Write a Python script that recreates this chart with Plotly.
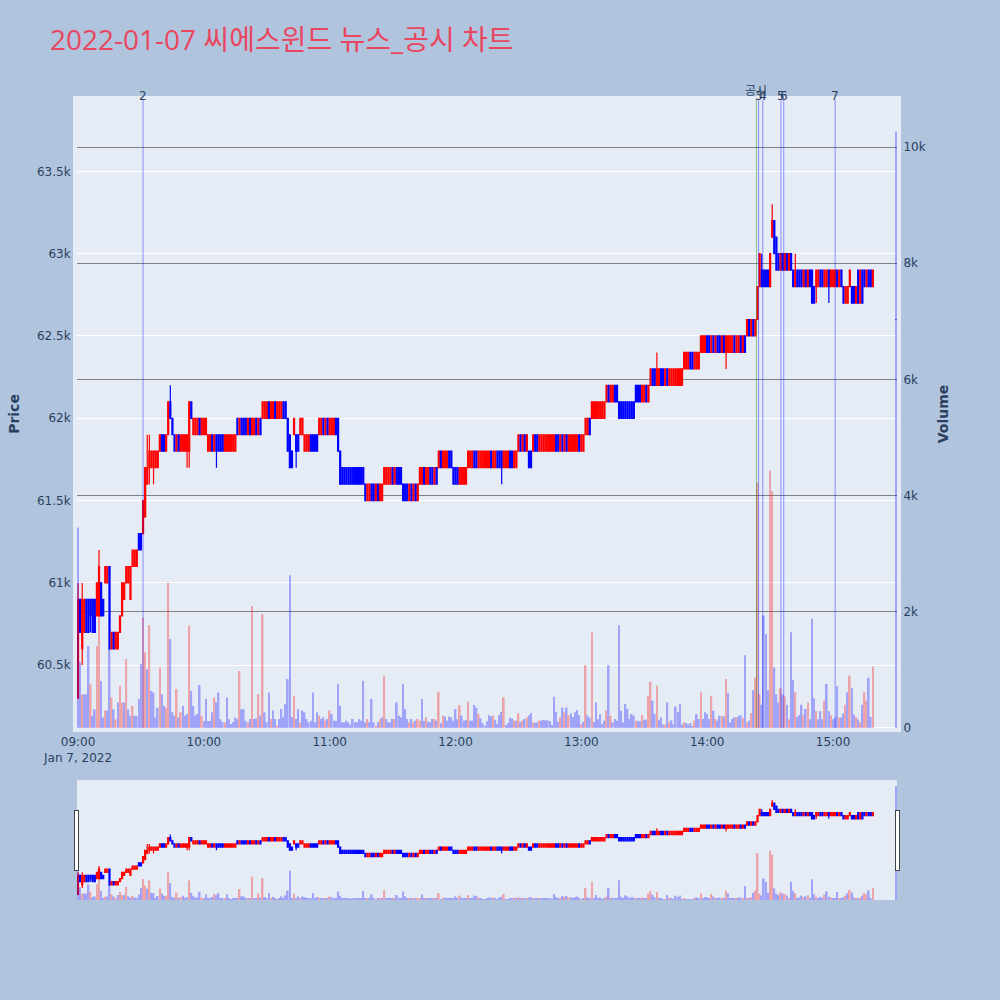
import pandas as pd
import plotly.graph_objects as go
from plotly.subplots import make_subplots

# 1-minute bars, 2022-01-07, 09:00-15:19 continuous session + 15:30 closing auction
TIMES = list(pd.date_range("2022-01-07 09:00", "2022-01-07 15:19", freq="min")) + [pd.Timestamp("2022-01-07 15:30")]

OPEN = [
60300, 60900, 60600, 60700, 60900, 60900, 60900, 60900, 60900, 60800,
60800, 61000, 60900, 61000, 61000, 61100, 60600, 60700, 60600, 60600,
60700, 60800, 60900, 61000, 61000, 60900, 61100, 61100, 61100, 61300,
61300, 61300, 61400, 61600, 61700, 61700, 61700, 61700, 61700, 61800,
61900, 61900, 61800, 61900, 62100, 62000, 61900, 61800, 61900, 61800,
61800, 61800, 61800, 61800, 62100, 61900, 61900, 61900, 62000, 61900,
61900, 61900, 61800, 61800, 61900, 61800, 61900, 61900, 61900, 61900,
61800, 61800, 61800, 61800, 61800, 61800, 62000, 61900, 62000, 62000,
62000, 61900, 62000, 61900, 61900, 62000, 61900, 62000, 62000, 62000,
62000, 62100, 62000, 62000, 62100, 62000, 62000, 62000, 62100, 62100,
62000, 61900, 61800, 61900, 61900, 61900, 61900, 61900, 61800, 61800,
61800, 61900, 61900, 61900, 61900, 61900, 61900, 62000, 61900, 62000,
61900, 61900, 61900, 62000, 62000, 61800, 61700, 61700, 61700, 61700,
61700, 61700, 61700, 61700, 61700, 61700, 61700, 61600, 61500, 61500,
61600, 61600, 61500, 61600, 61500, 61500, 61600, 61600, 61600, 61600,
61700, 61600, 61700, 61700, 61700, 61600, 61600, 61600, 61500, 61600,
61500, 61600, 61500, 61600, 61600, 61700, 61600, 61600, 61700, 61700,
61600, 61700, 61700, 61800, 61700, 61700, 61700, 61800, 61800, 61700,
61700, 61700, 61600, 61600, 61600, 61600, 61700, 61700, 61700, 61800,
61800, 61700, 61700, 61700, 61700, 61700, 61700, 61800, 61700, 61700,
61800, 61800, 61800, 61700, 61700, 61700, 61800, 61800, 61700, 61700,
61800, 61900, 61800, 61900, 61800, 61800, 61800, 61800, 61900, 61900,
61800, 61800, 61800, 61800, 61800, 61800, 61800, 61800, 61900, 61900,
61800, 61900, 61800, 61900, 61800, 61800, 61800, 61800, 61800, 61900,
61800, 61800, 61900, 61900, 62000, 62000, 62000, 62000, 62000, 62000,
62000, 62000, 62100, 62200, 62100, 62100, 62200, 62200, 62100, 62100,
62100, 62100, 62100, 62100, 62100, 62100, 62200, 62200, 62200, 62100,
62100, 62200, 62100, 62200, 62300, 62300, 62200, 62200, 62300, 62300,
62200, 62300, 62200, 62200, 62200, 62200, 62200, 62200, 62200, 62300,
62300, 62300, 62400, 62400, 62300, 62300, 62300, 62400, 62400, 62400,
62500, 62500, 62400, 62500, 62400, 62500, 62500, 62400, 62500, 62400,
62400, 62400, 62400, 62500, 62400, 62400, 62500, 62400, 62500, 62500,
62600, 62500, 62600, 62500, 62600, 62800, 62900, 62900, 62900, 62900,
62800, 63100, 63200, 63100, 63000, 62900, 63000, 62900, 63000, 62900,
63000, 62900, 62800, 62900, 62900, 62900, 62800, 62900, 62800, 62900,
62900, 62800, 62800, 62800, 62900, 62900, 62800, 62800, 62900, 62800,
62800, 62800, 62900, 62800, 62900, 62800, 62700, 62700, 62800, 62800,
62800, 62700, 62900, 62700, 62900, 62900, 62800, 62900, 62900, 62800,
62600]

HIGH = [
61000, 60900, 61000, 60900, 60900, 60900, 60900, 60900, 60900, 61000,
61200, 61000, 60900, 61100, 61100, 61100, 60700, 60700, 60700, 60700,
60800, 61000, 61000, 61100, 61100, 61100, 61200, 61200, 61200, 61300,
61300, 61500, 61700, 61900, 61900, 61800, 61800, 61800, 61800, 61900,
61900, 61900, 61900, 62100, 62200, 62000, 61900, 61900, 61900, 61900,
61900, 61900, 61900, 62100, 62100, 62000, 62000, 62000, 62000, 62000,
62000, 62000, 61900, 61900, 61900, 61900, 61900, 61900, 61900, 61900,
61900, 61900, 61900, 61900, 61900, 61900, 62000, 62000, 62000, 62000,
62000, 62000, 62000, 62000, 62000, 62000, 62000, 62000, 62100, 62100,
62100, 62100, 62100, 62100, 62100, 62100, 62100, 62100, 62100, 62100,
62000, 61900, 61800, 62000, 61900, 61900, 62000, 62000, 61900, 61900,
61900, 61900, 61900, 61900, 61900, 62000, 62000, 62000, 62000, 62000,
62000, 62000, 62000, 62000, 62000, 61800, 61700, 61700, 61700, 61700,
61700, 61700, 61700, 61700, 61700, 61700, 61700, 61600, 61600, 61600,
61600, 61600, 61600, 61600, 61600, 61600, 61700, 61700, 61700, 61700,
61700, 61700, 61700, 61700, 61700, 61600, 61600, 61600, 61600, 61600,
61600, 61600, 61600, 61700, 61700, 61700, 61700, 61700, 61700, 61700,
61700, 61700, 61800, 61800, 61800, 61800, 61800, 61800, 61800, 61700,
61700, 61700, 61700, 61700, 61700, 61700, 61800, 61800, 61800, 61800,
61800, 61800, 61800, 61800, 61800, 61800, 61800, 61800, 61800, 61800,
61800, 61800, 61800, 61800, 61800, 61800, 61800, 61800, 61800, 61800,
61900, 61900, 61900, 61900, 61900, 61800, 61800, 61900, 61900, 61900,
61900, 61900, 61900, 61900, 61900, 61900, 61900, 61900, 61900, 61900,
61900, 61900, 61900, 61900, 61900, 61900, 61900, 61900, 61900, 61900,
61900, 61900, 62000, 62000, 62000, 62100, 62100, 62100, 62100, 62100,
62100, 62100, 62200, 62200, 62200, 62200, 62200, 62200, 62100, 62100,
62100, 62100, 62100, 62100, 62100, 62100, 62200, 62200, 62200, 62200,
62200, 62200, 62200, 62300, 62300, 62300, 62400, 62300, 62300, 62300,
62300, 62300, 62300, 62300, 62300, 62300, 62300, 62300, 62300, 62400,
62400, 62400, 62400, 62400, 62400, 62400, 62400, 62500, 62500, 62500,
62500, 62500, 62500, 62500, 62500, 62500, 62500, 62500, 62500, 62500,
62500, 62500, 62500, 62500, 62500, 62500, 62500, 62500, 62500, 62600,
62600, 62600, 62600, 62600, 62800, 63000, 63000, 62900, 62900, 62900,
63000, 63300, 63200, 63100, 63000, 63000, 63000, 63000, 63000, 63000,
63000, 62900, 63000, 62900, 62900, 62900, 62900, 62900, 62900, 62900,
62900, 62800, 62900, 62900, 62900, 62900, 62900, 62900, 62900, 62900,
62900, 62900, 62900, 62900, 62900, 62800, 62800, 62800, 62900, 62800,
62800, 62800, 62900, 62900, 62900, 62900, 62900, 62900, 62900, 62900,
62600]

LOW = [
60300, 60700, 60500, 60700, 60700, 60700, 60700, 60700, 60700, 60800,
60800, 60800, 60800, 61000, 61000, 60600, 60600, 60600, 60600, 60600,
60700, 60800, 60900, 61000, 61000, 60900, 61100, 61100, 61100, 61200,
61200, 61300, 61400, 61600, 61600, 61700, 61600, 61700, 61700, 61800,
61800, 61800, 61800, 61900, 62000, 61900, 61800, 61800, 61800, 61800,
61800, 61800, 61700, 61700, 62000, 61900, 61900, 61900, 61900, 61900,
61900, 61900, 61800, 61800, 61800, 61800, 61700, 61800, 61800, 61800,
61800, 61800, 61800, 61800, 61800, 61800, 61900, 61900, 61900, 61900,
61900, 61900, 61900, 61900, 61900, 61900, 61900, 61900, 62000, 62000,
62000, 62000, 62000, 62000, 62000, 62000, 62000, 62000, 62000, 62000,
61800, 61700, 61700, 61900, 61700, 61800, 61900, 61900, 61800, 61800,
61800, 61800, 61800, 61800, 61800, 61900, 61900, 61900, 61900, 61900,
61900, 61900, 61900, 61900, 61800, 61600, 61600, 61600, 61600, 61600,
61600, 61600, 61600, 61600, 61600, 61600, 61600, 61500, 61500, 61500,
61500, 61500, 61500, 61500, 61500, 61500, 61600, 61600, 61600, 61600,
61600, 61600, 61600, 61600, 61600, 61500, 61500, 61500, 61500, 61500,
61500, 61500, 61500, 61600, 61600, 61600, 61600, 61600, 61600, 61600,
61600, 61600, 61700, 61700, 61700, 61700, 61700, 61700, 61700, 61600,
61600, 61600, 61600, 61600, 61600, 61600, 61700, 61700, 61700, 61700,
61700, 61700, 61700, 61700, 61700, 61700, 61700, 61700, 61700, 61700,
61700, 61700, 61600, 61700, 61700, 61700, 61700, 61700, 61700, 61700,
61800, 61800, 61800, 61800, 61800, 61700, 61700, 61800, 61800, 61800,
61800, 61800, 61800, 61800, 61800, 61800, 61800, 61800, 61800, 61800,
61800, 61800, 61800, 61800, 61800, 61800, 61800, 61800, 61800, 61800,
61800, 61800, 61900, 61900, 61900, 62000, 62000, 62000, 62000, 62000,
62000, 62000, 62100, 62100, 62100, 62100, 62100, 62100, 62000, 62000,
62000, 62000, 62000, 62000, 62000, 62000, 62100, 62100, 62100, 62100,
62100, 62100, 62100, 62200, 62200, 62200, 62200, 62200, 62200, 62200,
62200, 62200, 62200, 62200, 62200, 62200, 62200, 62200, 62200, 62300,
62300, 62300, 62300, 62300, 62300, 62300, 62300, 62400, 62400, 62400,
62400, 62400, 62400, 62400, 62400, 62400, 62400, 62400, 62400, 62300,
62400, 62400, 62400, 62400, 62400, 62400, 62400, 62400, 62400, 62500,
62500, 62500, 62500, 62500, 62600, 62800, 62800, 62800, 62800, 62800,
62800, 63100, 63000, 62900, 62900, 62900, 62900, 62900, 62900, 62900,
62900, 62800, 62800, 62800, 62800, 62800, 62800, 62800, 62800, 62800,
62700, 62700, 62700, 62800, 62800, 62800, 62800, 62800, 62700, 62800,
62800, 62800, 62800, 62800, 62800, 62700, 62700, 62700, 62800, 62700,
62700, 62700, 62700, 62700, 62700, 62800, 62800, 62800, 62800, 62800,
62600]

CLOSE = [
60900, 60700, 60900, 60900, 60700, 60700, 60800, 60700, 60700, 61000,
61100, 60800, 60800, 61100, 61100, 60600, 60700, 60600, 60700, 60700,
60800, 61000, 61000, 61100, 61100, 61100, 61200, 61200, 61200, 61200,
61200, 61500, 61700, 61700, 61800, 61800, 61800, 61800, 61800, 61900,
61800, 61800, 61900, 62100, 62000, 61900, 61800, 61900, 61800, 61900,
61900, 61900, 61900, 62100, 62000, 62000, 62000, 62000, 61900, 62000,
62000, 62000, 61900, 61900, 61800, 61900, 61800, 61800, 61800, 61800,
61900, 61900, 61900, 61900, 61900, 61900, 61900, 62000, 61900, 61900,
61900, 62000, 61900, 62000, 62000, 61900, 62000, 61900, 62100, 62100,
62100, 62000, 62100, 62100, 62000, 62100, 62100, 62100, 62000, 62000,
61800, 61700, 61700, 62000, 61800, 61800, 62000, 62000, 61900, 61900,
61900, 61800, 61800, 61800, 61800, 62000, 62000, 61900, 62000, 61900,
62000, 62000, 62000, 61900, 61800, 61600, 61600, 61600, 61600, 61600,
61600, 61600, 61600, 61600, 61600, 61600, 61600, 61500, 61600, 61600,
61500, 61500, 61600, 61500, 61600, 61600, 61700, 61700, 61700, 61700,
61600, 61700, 61600, 61600, 61600, 61500, 61500, 61500, 61600, 61500,
61600, 61500, 61600, 61700, 61700, 61600, 61700, 61700, 61600, 61600,
61700, 61600, 61800, 61700, 61800, 61800, 61800, 61700, 61700, 61600,
61600, 61600, 61700, 61700, 61700, 61700, 61800, 61800, 61800, 61700,
61700, 61800, 61800, 61800, 61800, 61800, 61800, 61700, 61800, 61800,
61700, 61700, 61700, 61800, 61800, 61800, 61700, 61700, 61800, 61800,
61900, 61800, 61900, 61800, 61900, 61700, 61700, 61900, 61800, 61800,
61900, 61900, 61900, 61900, 61900, 61900, 61900, 61900, 61800, 61800,
61900, 61800, 61900, 61800, 61900, 61900, 61900, 61900, 61900, 61800,
61900, 61900, 62000, 62000, 61900, 62100, 62100, 62100, 62100, 62100,
62100, 62100, 62200, 62100, 62200, 62200, 62100, 62100, 62000, 62000,
62000, 62000, 62000, 62000, 62000, 62000, 62100, 62100, 62100, 62200,
62200, 62100, 62200, 62300, 62200, 62200, 62300, 62300, 62200, 62200,
62300, 62200, 62300, 62300, 62300, 62300, 62300, 62300, 62300, 62400,
62400, 62400, 62300, 62300, 62400, 62400, 62400, 62500, 62500, 62500,
62400, 62400, 62500, 62400, 62500, 62400, 62400, 62500, 62400, 62500,
62500, 62500, 62500, 62400, 62500, 62500, 62400, 62500, 62400, 62600,
62500, 62600, 62500, 62600, 62800, 63000, 62800, 62800, 62800, 62800,
63000, 63200, 63000, 62900, 62900, 63000, 62900, 63000, 62900, 63000,
62900, 62800, 62900, 62800, 62800, 62800, 62900, 62800, 62900, 62800,
62700, 62700, 62900, 62900, 62800, 62800, 62900, 62900, 62800, 62900,
62900, 62900, 62800, 62900, 62800, 62700, 62800, 62800, 62900, 62700,
62700, 62800, 62700, 62900, 62700, 62800, 62900, 62800, 62800, 62900,
62600]

VOLUME = [
3450, 1130, 580, 580, 580, 1410, 750, 210, 320, 1410,
2200, 810, 180, 300, 300, 1360, 525, 320, 150, 440,
725, 440, 440, 1185, 320, 210, 380, 210, 210, 500,
1100, 1900, 1300, 1010, 1770, 640, 610, 180, 350, 1040,
580, 380, 350, 2500, 1530, 270, 210, 670, 180, 270,
380, 210, 240, 1760, 640, 380, 210, 240, 740, 210,
120, 500, 120, 120, 270, 525, 440, 610, 150, 100,
100, 525, 150, 70, 100, 180, 150, 980, 320, 326,
120, 100, 155, 2100, 155, 166, 584, 212, 1960, 270,
100, 613, 155, 300, 155, 40, 155, 326, 183, 412,
842, 2630, 183, 555, 155, 326, 97, 300, 270, 155,
97, 125, 613, 97, 270, 212, 155, 183, 125, 155,
300, 240, 125, 125, 756, 384, 97, 97, 125, 97,
57, 155, 97, 97, 155, 126, 813, 97, 155, 97,
500, 97, 40, 97, 155, 183, 900, 155, 97, 97,
155, 155, 440, 212, 183, 756, 326, 155, 97, 155,
97, 126, 155, 126, 498, 120, 183, 110, 97, 155,
155, 126, 624, 86, 212, 200, 126, 195, 183, 126,
326, 150, 395, 212, 126, 140, 452, 126, 126, 395,
350, 240, 165, 86, 40, 115, 220, 200, 212, 140,
70, 220, 280, 527, 52, 86, 170, 165, 126, 126,
255, 97, 126, 155, 183, 220, 252, 97, 92, 97,
126, 126, 140, 130, 130, 120, 52, 538, 280, 110,
183, 350, 270, 350, 220, 255, 190, 270, 310, 220,
64, 105, 1083, 220, 180, 1644, 103, 441, 150, 240,
69, 126, 298, 1082, 212, 97, 155, 126, 1770, 298,
97, 413, 327, 155, 240, 212, 126, 126, 115, 223,
143, 143, 555, 796, 470, 240, 727, 143, 183, 60,
60, 441, 97, 130, 60, 372, 269, 413, 60, 100,
86, 60, 86, 30, 126, 240, 155, 613, 155, 270,
240, 155, 555, 298, 155, 126, 212, 212, 200, 842,
601, 97, 155, 183, 183, 200, 221, 171, 1254, 100,
126, 257, 650, 864, 4220, 580, 400, 1936, 1614, 650,
4430, 4080, 1043, 580, 436, 686, 580, 543, 400, 150,
1650, 828, 614, 186, 221, 400, 221, 328, 436, 150,
1879, 507, 293, 150, 290, 150, 471, 757, 290, 220,
150, 180, 722, 180, 180, 250, 400, 614, 900, 686,
230, 190, 150, 100, 400, 614, 471, 864, 190, 1057,
10270]

# news / disclosure markers
EVENT_LABELS = ["2", "공시", "3", "4", "5", "6", "7"]
EVENT_TIMES = ["2022-01-07 09:31:00", "2022-01-07 14:23:30", "2022-01-07 14:24:30",
               "2022-01-07 14:26:30", "2022-01-07 14:35:10", "2022-01-07 14:36:30",
               "2022-01-07 15:01:00"]
EVENT_KINDS = ["news", "disclosure", "news", "news", "news", "news", "news"]

TITLE = "2022-01-07 씨에스윈드 뉴스_공시 차트"
X_RANGE = ["2022-01-07 08:59:30", "2022-01-07 15:30:30"]

fig = make_subplots(specs=[[{"secondary_y": True}]])

fig.add_trace(go.Candlestick(
    x=TIMES, open=OPEN, high=HIGH, low=LOW, close=CLOSE,
    increasing=dict(line=dict(color="red", width=1.2), fillcolor="red"),
    decreasing=dict(line=dict(color="blue", width=1.2), fillcolor="blue"),
    showlegend=False, name="Price"), secondary_y=False)

vol_colors = ["blue"] + ["red" if CLOSE[i] > CLOSE[i - 1] else "blue" for i in range(1, len(CLOSE))]
fig.add_trace(go.Bar(x=TIMES, y=VOLUME, marker=dict(color=vol_colors, line=dict(width=0)),
                     opacity=0.3, showlegend=False, name="Volume"), secondary_y=True)

for t, lab, kind in zip(EVENT_TIMES, EVENT_LABELS, EVENT_KINDS):
    col = "green" if kind == "disclosure" else "blue"
    fig.add_shape(type="line", xref="x", yref="paper", x0=t, x1=t, y0=0, y1=1,
                  line=dict(color=col, width=1), opacity=0.4)
    fig.add_annotation(x=t, y=1, xref="x", yref="paper", text=lab, showarrow=False,
                       yanchor="middle", yshift=9 if kind == "disclosure" else 4,
                       font=dict(size=12, color="#2a3f5f"))

FRAME = "#E5ECF6"
fig.update_layout(
    width=1000, height=1000,
    paper_bgcolor="lightsteelblue",
    plot_bgcolor=FRAME,
    font=dict(family="Verdana, DejaVu Sans, Noto Sans CJK KR, sans-serif"),
    margin=dict(l=76, r=103, t=100, b=100),
    title=dict(text=TITLE, x=0.05, xanchor="left", y=0.97, yanchor="top",
               font=dict(size=28, color="#E8475F",
                         family="Open Sans, Noto Sans CJK KR, sans-serif")),
    showlegend=False,
    hovermode="x",
)
fig.update_xaxes(domain=[0, 1], showgrid=False, range=X_RANGE,
                 showline=True, linewidth=4, linecolor=FRAME, mirror=True,
                 rangeslider=dict(visible=True, bgcolor=FRAME, thickness=0.15))
fig.update_yaxes(title_text="<b>Price</b>", secondary_y=False, gridcolor="white",
                 showline=True, linewidth=4, linecolor=FRAME, mirror=True,
                 range=[min(LOW) * 0.997, max(HIGH) * 1.01])
fig.update_yaxes(title_text="<b>Volume</b>", secondary_y=True, showgrid=True,
                 gridcolor="gray", gridwidth=1.3,
                 showline=True, linewidth=4, linecolor=FRAME)

fig.write_html("out.html", config={"displayModeBar": False},
               post_script="document.body.style.margin='0px';")
